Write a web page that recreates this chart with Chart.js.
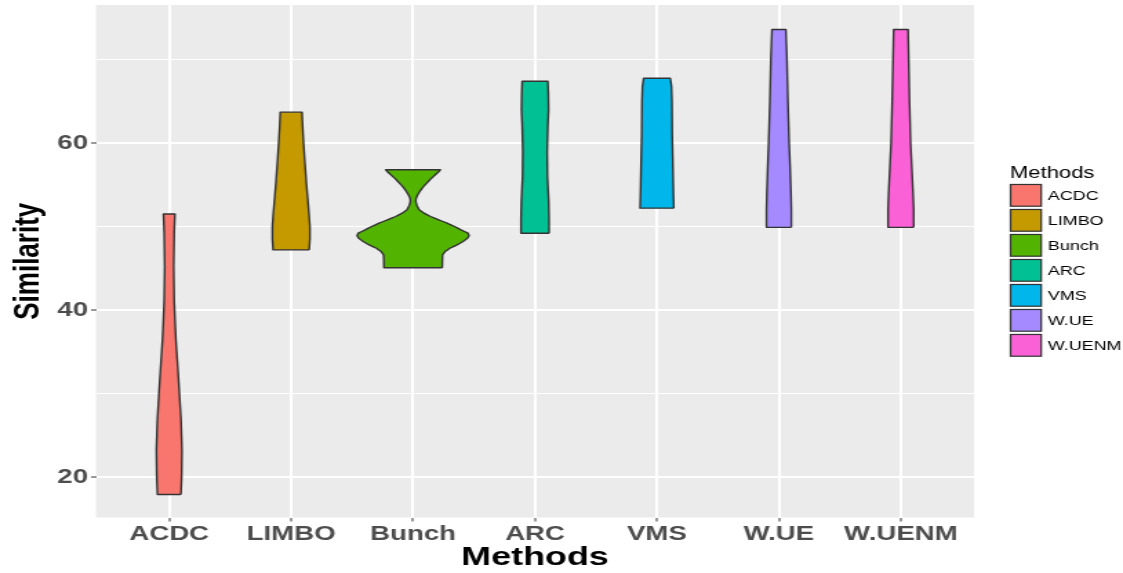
<!DOCTYPE html>
<html lang="en">
<head>
    <meta charset="UTF-8">
    <title>Similarity by Method</title>
    <script src="https://cdn.jsdelivr.net/npm/chart.js"></script>
    <style>
        html, body { margin: 0; padding: 0; background: #ffffff; overflow: hidden; }
        /* the reference plot is stretched sideways, so the chart is drawn narrow and widened */
        #wrap { width: 814px; height: 573px; transform: scaleX(1.3796); transform-origin: 0 0; }
    </style>
</head>
<body>
    <div id="wrap"><canvas id="violinChart" width="814" height="573"></canvas></div>

    <script>
        // Methods on the x axis
        const methods = ['ACDC', 'LIMBO', 'Bunch', 'ARC', 'VMS', 'W.UE', 'W.UENM'];
        const fillColors = ['#F8766D', '#C49A00', '#53B400', '#00C094', '#00B6EB', '#A58AFF', '#FB61D7'];

        // y axis ticks: labelled values and the minor grid values
        const yTickLabels = [20, 40, 60];
        const yMinorTicks = [30, 50, 70];

        // violin outlines: similarity levels and half width at each level (in category units)
        const acdcLevels = [17.9, 20, 23.2, 26.8, 30, 33.2, 36.4, 39, 41.2, 45.2, 49.2, 51.5];
        const acdcWidths = [0.096, 0.102, 0.105, 0.097, 0.084, 0.070, 0.055, 0.047, 0.041, 0.037, 0.041, 0.047];

        const limboLevels = [47.2, 48.5, 50, 51.6, 53.5, 55.2, 58, 60, 62, 63.7];
        const limboWidths = [0.148, 0.154, 0.154, 0.146, 0.135, 0.125, 0.111, 0.102, 0.094, 0.089];

        const bunchLevels = [45.07, 46.0, 46.6, 47.0, 47.4, 47.8, 48.2, 48.6, 48.9, 49.2, 49.6, 50.0, 50.4, 50.8,
                             51.2, 51.6, 52.0, 52.5, 53.0, 53.4, 53.8, 54.2, 54.7, 55.2, 55.7, 56.2, 56.5, 56.8];
        const bunchWidths = [0.239, 0.240, 0.242, 0.262, 0.301, 0.360, 0.410, 0.446, 0.459, 0.450, 0.393, 0.340, 0.279, 0.210,
                             0.143, 0.090, 0.050, 0.032, 0.022, 0.025, 0.038, 0.055, 0.080, 0.112, 0.145, 0.182, 0.205, 0.224];

        const arcLevels = [49.2, 51, 53, 56, 59, 62, 64, 66, 67.4];
        const arcWidths = [0.115, 0.115, 0.112, 0.102, 0.100, 0.105, 0.111, 0.109, 0.105];

        const vmsLevels = [52.2, 54, 57, 61, 65, 66.8, 67.75];
        const vmsWidths = [0.138, 0.135, 0.131, 0.125, 0.123, 0.119, 0.109];

        const wueLevels = [49.9, 52, 54, 57, 60, 65, 70, 73.6];
        const wueWidths = [0.102, 0.102, 0.099, 0.092, 0.084, 0.074, 0.066, 0.057];

        const wuenmLevels = [49.9, 52, 54, 57, 60, 65, 70, 73.6];
        const wuenmWidths = [0.105, 0.105, 0.100, 0.090, 0.080, 0.071, 0.064, 0.059];

        const profiles = [
            [acdcLevels, acdcWidths],
            [limboLevels, limboWidths],
            [bunchLevels, bunchWidths],
            [arcLevels, arcWidths],
            [vmsLevels, vmsWidths],
            [wueLevels, wueWidths],
            [wuenmLevels, wuenmWidths]
        ];

        const FONT = "'Liberation Sans', Arial, Helvetica, sans-serif";

        // closed outline: up the right side, down the left side, back to start
        function outline(levels, widths, pos) {
            const right = levels.map((y, k) => ({ x: pos + widths[k], y: y }));
            const left = levels.map((y, k) => ({ x: pos - widths[k], y: y })).reverse();
            return right.concat(left, [right[0]]);
        }

        const datasets = methods.map((m, i) => ({
            label: m,
            data: outline(profiles[i][0], profiles[i][1], i + 1),
            fill: false,
            backgroundColor: fillColors[i],
            borderColor: '#333333',
            borderWidth: 1.4,
            borderJoinStyle: 'round',
            pointRadius: 0,
            // a tiny tension keeps the line off the x-sorted fast path
            tension: 0.001
        }));

        // grey panel behind the grid
        const panelBackground = {
            id: 'panelBackground',
            beforeDraw(chart) {
                const { ctx, chartArea } = chart;
                ctx.save();
                ctx.fillStyle = '#EBEBEB';
                ctx.fillRect(chartArea.left, chartArea.top, chartArea.right - chartArea.left, chartArea.bottom - chartArea.top);
                ctx.restore();
            }
        };

        // fill each violin along the points the line controller placed
        const violinFill = {
            id: 'violinFill',
            beforeDatasetsDraw(chart) {
                const ctx = chart.ctx;
                chart.data.datasets.forEach((ds, i) => {
                    const pts = chart.getDatasetMeta(i).data;
                    ctx.save();
                    ctx.beginPath();
                    pts.forEach((p, k) => k ? ctx.lineTo(p.x, p.y) : ctx.moveTo(p.x, p.y));
                    ctx.closePath();
                    ctx.fillStyle = ds.backgroundColor;
                    ctx.fill();
                    ctx.restore();
                });
            }
        };

        // ggplot-like legend on the right
        const sideLegend = {
            id: 'sideLegend',
            afterDraw(chart) {
                const ctx = chart.ctx;
                const x0 = chart.chartArea.right + 26;
                ctx.save();
                ctx.fillStyle = '#000000';
                ctx.font = '16px ' + FONT;
                ctx.textBaseline = 'alphabetic';
                ctx.textAlign = 'left';
                ctx.fillText('Methods', x0, 178);
                ctx.font = '13px ' + FONT;
                ctx.textBaseline = 'middle';
                methods.forEach((m, i) => {
                    const top = 184 + i * 25;
                    ctx.fillStyle = '#F2F2F2';
                    ctx.fillRect(x0 - 0.5, top - 0.5, 24.2, 23.7);
                    ctx.fillStyle = fillColors[i];
                    ctx.fillRect(x0 + 0.5, top + 0.5, 22.2, 21.7);
                    ctx.strokeStyle = '#333333';
                    ctx.lineWidth = 1.2;
                    ctx.strokeRect(x0 + 0.5, top + 0.5, 22.2, 21.7);
                    ctx.fillStyle = '#000000';
                    ctx.fillText(m, x0 + 27.5, top + 12);
                });
                ctx.restore();
            }
        };

        function noPadding(scale) {
            scale.paddingTop = 0;
            scale.paddingBottom = 0;
            scale.paddingLeft = 0;
            scale.paddingRight = 0;
        }

        const ctx = document.getElementById('violinChart').getContext('2d');
        new Chart(ctx, {
            type: 'line',
            data: { datasets: datasets },
            plugins: [panelBackground, violinFill, sideLegend],
            options: {
                responsive: false,
                devicePixelRatio: 1,
                animation: false,
                events: [],
                layout: { padding: { left: 0, right: 108, top: 5, bottom: 0 } },
                plugins: {
                    legend: { display: false },
                    tooltip: { enabled: false }
                },
                scales: {
                    x: {
                        type: 'linear',
                        min: 0.4,
                        max: 7.6,
                        afterBuildTicks: scale => { scale.ticks = methods.map((m, i) => ({ value: i + 1 })); },
                        afterFit: scale => { scale.height = 55.5; noPadding(scale); },
                        border: { display: false },
                        grid: { color: '#FFFFFF', lineWidth: 2, tickColor: '#333333', tickLength: 4, tickWidth: 1 },
                        ticks: {
                            color: '#4D4D4D',
                            font: { family: FONT, size: 20, weight: 'bold' },
                            padding: 0.5,
                            maxRotation: 0,
                            autoSkip: false,
                            callback: v => methods[Math.round(v) - 1]
                        },
                        title: {
                            display: true,
                            text: 'Methods',
                            color: '#000000',
                            font: { family: FONT, size: 26, weight: 'bold' },
                            padding: { top: 0, bottom: 0 }
                        }
                    },
                    y: {
                        min: 15.15,
                        max: 76.53,
                        afterBuildTicks: scale => {
                            scale.ticks = yTickLabels.concat(yMinorTicks).sort((a, b) => a - b).map(v => ({ value: v }));
                        },
                        afterFit: scale => { scale.width = 69.6; noPadding(scale); },
                        border: { display: false },
                        grid: {
                            color: '#FFFFFF',
                            lineWidth: c => (c.tick && yTickLabels.includes(c.tick.value)) ? 2 : 1,
                            tickColor: c => (c.tick && yTickLabels.includes(c.tick.value)) ? '#333333' : 'rgba(0,0,0,0)',
                            tickLength: 3.6,
                            tickWidth: 1
                        },
                        ticks: {
                            color: '#4D4D4D',
                            font: { family: FONT, size: 20, weight: 'bold' },
                            padding: 2.2,
                            callback: v => yTickLabels.includes(v) ? String(v) : ''
                        },
                        title: {
                            display: true,
                            text: 'Similarity',
                            color: '#000000',
                            font: { family: FONT, size: 26, weight: 'bold' },
                            padding: { top: 5, bottom: 0 }
                        }
                    }
                }
            }
        });
    </script>
</body>
</html>
